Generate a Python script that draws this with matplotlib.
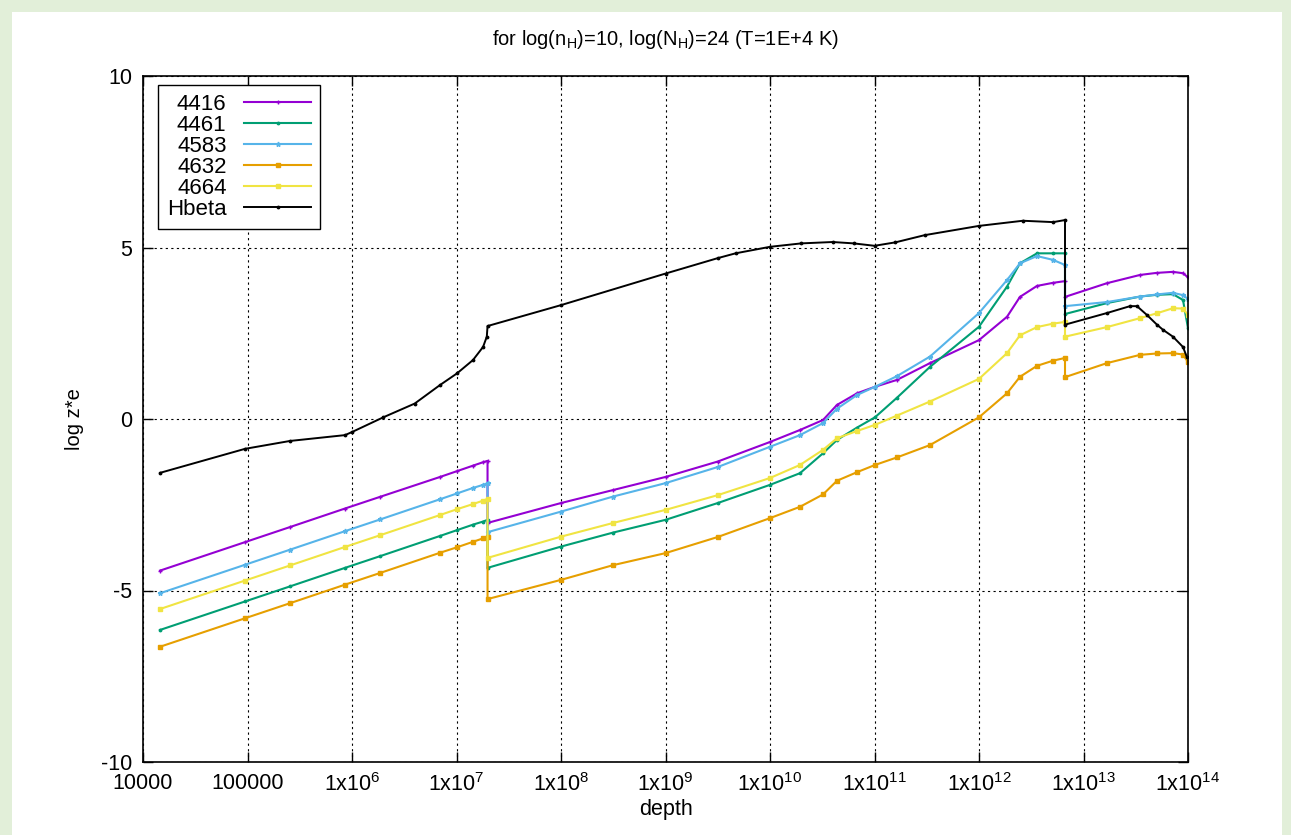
import numpy as np
import matplotlib
matplotlib.use("Agg")
import matplotlib.pyplot as plt
from matplotlib.patches import Rectangle
from matplotlib.ticker import FixedLocator, FixedFormatter, NullLocator

plt.rcParams['font.family'] = ['Liberation Sans', 'DejaVu Sans']
plt.rcParams['mathtext.fontset'] = 'custom'
plt.rcParams['mathtext.rm'] = 'Liberation Sans'
plt.rcParams['mathtext.it'] = 'Liberation Sans'
plt.rcParams['axes.unicode_minus'] = False

# log10(depth) grid shared by the five line series (repeated values = jumps)
logd_lines = [4.163, 4.976, 5.407, 5.933, 6.268, 6.842, 7.005, 7.158, 7.254, 7.297,
              7.297, 8.0, 8.5, 9.0, 9.5, 10.0, 10.287, 10.507, 10.641, 10.833,
              11.005, 11.215, 11.531, 12.0, 12.268, 12.392, 12.555, 12.708, 12.823,
              12.823, 13.225, 13.541, 13.7, 13.856, 13.952, 14.0]

z_4416 = [-4.42, -3.59, -3.15, -2.61, -2.27, -1.69, -1.52, -1.36, -1.26, -1.22,
          -3.03, -2.45, -2.07, -1.69, -1.24, -0.67, -0.32, -0.03, 0.41, 0.75,
          0.94, 1.14, 1.63, 2.30, 2.98, 3.56, 3.88, 3.97, 4.02,
          3.56, 3.96, 4.20, 4.26, 4.29, 4.25, 4.13]
z_4461 = [-6.15, -5.32, -4.88, -4.34, -4.00, -3.41, -3.24, -3.08, -2.99, -2.94,
          -4.34, -3.72, -3.31, -2.94, -2.45, -1.92, -1.58, -1.00, -0.61, -0.25,
          0.05, 0.62, 1.52, 2.69, 3.86, 4.54, 4.83, 4.83, 4.83,
          3.06, 3.38, 3.57, 3.62, 3.64, 3.47, 2.65]
z_4583 = [-5.08, -4.25, -3.81, -3.27, -2.93, -2.34, -2.17, -2.01, -1.92, -1.87,
          -3.30, -2.70, -2.26, -1.87, -1.40, -0.81, -0.47, -0.12, 0.30, 0.70,
          0.94, 1.25, 1.82, 3.09, 4.05, 4.54, 4.75, 4.64, 4.49,
          3.29, 3.41, 3.57, 3.63, 3.68, 3.61, 3.50]
z_4632 = [-6.64, -5.81, -5.37, -4.83, -4.49, -3.90, -3.74, -3.58, -3.48, -3.44,
          -5.25, -4.69, -4.26, -3.91, -3.44, -2.89, -2.56, -2.20, -1.80, -1.55,
          -1.34, -1.12, -0.76, 0.05, 0.75, 1.23, 1.55, 1.70, 1.78,
          1.22, 1.63, 1.87, 1.91, 1.92, 1.88, 1.66]
z_4664 = [-5.54, -4.71, -4.27, -3.73, -3.39, -2.80, -2.63, -2.48, -2.38, -2.33,
          -4.05, -3.43, -3.03, -2.65, -2.22, -1.72, -1.34, -0.90, -0.56, -0.35,
          -0.17, 0.10, 0.51, 1.17, 1.92, 2.44, 2.68, 2.78, 2.83,
          2.40, 2.68, 2.94, 3.08, 3.23, 3.22, 3.03]

# Hbeta has its own depth samples
logd_hbeta = [4.163, 4.976, 5.407, 5.933, 6.0, 6.3, 6.6, 6.842, 7.005, 7.158, 7.254, 7.29, 7.297,
              8.0, 9.0, 9.5, 9.67, 10.0, 10.3, 10.6, 10.8, 11.0, 11.2, 11.48, 12.0, 12.42, 12.71, 12.823,
              12.823, 13.225, 13.445, 13.512, 13.608, 13.703, 13.761, 13.856, 13.952, 13.99]
z_hbeta = [-1.57, -0.87, -0.64, -0.47, -0.38, 0.05, 0.45, 0.99, 1.33, 1.72, 2.10, 2.40, 2.71,
           3.32, 4.24, 4.69, 4.83, 5.02, 5.12, 5.16, 5.12, 5.05, 5.15, 5.36, 5.63, 5.78, 5.74, 5.80,
           2.75, 3.09, 3.29, 3.29, 3.03, 2.75, 2.60, 2.40, 2.10, 1.80]

labels = ['4416', '4461', '4583', '4632', '4664', 'Hbeta']
colors = ['#9400d3', '#009e73', '#56b4e9', '#e69f00', '#f0e442', '#000000']
markers = ['+', '.', '*', 's', 's', '.']

xticks = [1e4, 1e5, 1e6, 1e7, 1e8, 1e9, 1e10, 1e11, 1e12, 1e13, 1e14]
xticklabels = ['10000', '100000'] + ['1x10$^{%d}$' % k for k in range(6, 15)]

W, H = 1291, 835
fig = plt.figure(figsize=(W / 100, H / 100), dpi=100, facecolor='#e2efd9')
fig.add_artist(Rectangle((12 / W, 0), (1282 - 12) / W, (H - 12) / H,
                         transform=fig.transFigure, facecolor='white',
                         edgecolor='none', zorder=-10))
ax = fig.add_axes([143 / W, (H - 762) / H, (1188 - 143) / W, (762 - 76) / H])
ax.set_zorder(1)

d_lines = 10 ** np.array(logd_lines)
series = [z_4416, z_4461, z_4583, z_4632, z_4664]
for z, lab, c, m in zip(series, labels[:5], colors[:5], markers[:5]):
    ax.plot(d_lines, z, color=c, lw=1.5, marker=m, ms=3.5, mew=1, label=lab)
ax.plot(10 ** np.array(logd_hbeta), z_hbeta, color='black', lw=1.4,
        marker='.', ms=3.5, label='Hbeta')

ax.set_xscale('log')
ax.set_xlim(1e4, 1e14)
ax.set_ylim(-10, 10)
ax.xaxis.set_major_locator(FixedLocator(xticks))
ax.xaxis.set_major_formatter(FixedFormatter(xticklabels))
ax.xaxis.set_minor_locator(NullLocator())
ax.set_yticks([-10, -5, 0, 5, 10])
ax.tick_params(direction='in', length=7, width=1, top=True, right=True,
               labelsize=15.5, pad=8)
ax.grid(True, color='black', ls=(0, (2, 3)), lw=0.8)
for s in ax.spines.values():
    s.set_linewidth(1.2)

ax.set_title('for log(n$_\\mathrm{H}$)=10, log(N$_\\mathrm{H}$)=24 (T=1E+4 K)',
             fontsize=14.5, pad=22)
ax.set_xlabel('depth', fontsize=15.5, labelpad=2)
ax.set_ylabel('log z*e', fontsize=14.5, labelpad=12)

leg = ax.legend(loc='upper left', bbox_to_anchor=(15 / 1045, 1 - 9 / 686),
                borderaxespad=0, markerfirst=False, fontsize=16,
                fancybox=False, framealpha=1, edgecolor='black',
                handlelength=3.0, labelspacing=0.0,
                borderpad=0.4, handletextpad=0.8)
leg.get_frame().set_linewidth(1)

fig.savefig('out.png', dpi=100, facecolor=fig.get_facecolor())
